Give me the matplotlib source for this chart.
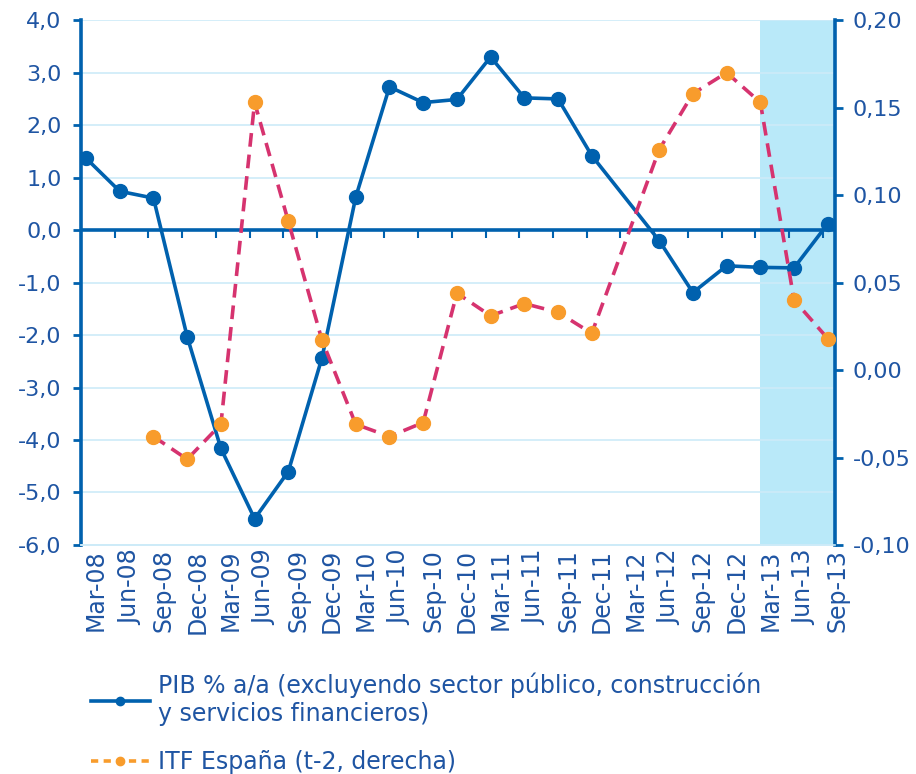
# Gráfico PIB vs ITF España (dos ejes)
import numpy as np
import matplotlib.pyplot as plt
from matplotlib.lines import Line2D
from matplotlib.ticker import FuncFormatter
import matplotlib.transforms as mtransforms

# Datos
trimestres = ['Mar-08', 'Jun-08', 'Sep-08', 'Dec-08', 'Mar-09', 'Jun-09', 'Sep-09', 'Dec-09',
              'Mar-10', 'Jun-10', 'Sep-10', 'Dec-10', 'Mar-11', 'Jun-11', 'Sep-11', 'Dec-11',
              'Mar-12', 'Jun-12', 'Sep-12', 'Dec-12', 'Mar-13', 'Jun-13', 'Sep-13']
pib = [1.37, 0.74, 0.61, -2.03, -4.16, -5.5, -4.6, -2.43, 0.63, 2.73, 2.43, 2.49, 3.30,
       2.52, 2.50, 1.42, None, -0.20, -1.19, -0.68, -0.71, -0.72, 0.12]
itf = [None, None, -0.038, -0.051, -0.031, 0.153, 0.085, 0.017, -0.031, -0.038, -0.030,
       0.044, 0.031, 0.038, 0.033, 0.021, None, 0.126, 0.158, 0.170, 0.153, 0.040, 0.018]
inicio_sombra = 'Mar-13'

azul = '#0061ae'
texto = '#1f55a3'
rosa = '#d6336f'
naranja = '#f89c2c'
rejilla = '#cdebf8'

plt.rcParams['font.family'] = ['DejaVu Sans']

x = np.arange(len(trimestres))
pib_x = [i for i, v in enumerate(pib) if v is not None]
pib_y = [v for v in pib if v is not None]
itf_x = [i for i, v in enumerate(itf) if v is not None]
itf_y = [v for v in itf if v is not None]

fig = plt.figure(figsize=(9.16, 7.74), dpi=100)
ax = fig.add_axes([0.0884, 0.2959, 0.823, 0.678])
ax2 = ax.twinx()

xmax = 22.21
ax.set_xlim(-0.15, xmax)
ax.set_ylim(-6, 4)
ax2.set_ylim(-0.10, 0.20)

# Zona sombreada
ax.axvspan(trimestres.index(inicio_sombra), xmax, color='#b9e9f9', zorder=0, lw=0)

# Rejilla horizontal
ax.set_yticks(np.arange(-6, 4.1, 1))
ax.grid(axis='y', color=rejilla, lw=1.2, zorder=0.5)
ax.set_axisbelow(True)

# Línea del cero
ax.axhline(0, color=azul, lw=2.6, zorder=1)

# Serie PIB (eje izquierdo)
ax.plot(pib_x, pib_y, color=azul, lw=2.6, marker='o', ms=10, zorder=3)

# Serie ITF (eje derecho)
ax2.plot(itf_x, itf_y, color=rosa, lw=2.6, ls=(0, (3.8, 2.2)), zorder=3)
ax2.plot(itf_x, itf_y, ls='none', marker='o', ms=10, color=naranja, zorder=4)

# Marcas sobre la línea del cero
sec = ax.secondary_xaxis(0.6)
sec.set_alignment('bottom')
sec.set_xticks(x - 0.15)
sec.set_xticklabels([])
for s in sec.spines.values():
    s.set_visible(False)
sec.tick_params(axis='x', which='both', direction='out', length=6, width=1.5, color=azul,
                bottom=True, top=False)

# Ejes
ax.set_xticks(x)
ax.set_xticklabels(trimestres, rotation=90, fontsize=17, color=texto)
ax.tick_params(axis='x', length=0, pad=3)
offset = mtransforms.ScaledTranslation(10 / 100, 0, fig.dpi_scale_trans)
for lab in ax.get_xticklabels():
    lab.set_transform(lab.get_transform() + offset)

fmt1 = FuncFormatter(lambda v, p: f'{v:.1f}'.replace('.', ','))
fmt2 = FuncFormatter(lambda v, p: f'{v:.2f}'.replace('.', ','))
ax.yaxis.set_major_formatter(fmt1)
ax2.set_yticks(np.arange(-0.10, 0.201, 0.05))
ax2.yaxis.set_major_formatter(fmt2)

ax.tick_params(axis='y', direction='out', length=6, width=2, color=azul, labelsize=16,
               labelcolor=texto, pad=8)
ax2.tick_params(axis='y', direction='out', length=6, width=2, color=azul, labelsize=16,
                labelcolor=texto, pad=7)

for a in (ax, ax2):
    a.spines['top'].set_visible(False)
    a.spines['bottom'].set_color(rejilla)
    a.spines['bottom'].set_linewidth(1.2)
ax.spines['left'].set_color(azul)
ax.spines['left'].set_linewidth(2.6)
ax.spines['right'].set_visible(False)
ax2.spines['left'].set_visible(False)
ax2.spines['right'].set_color(azul)
ax2.spines['right'].set_linewidth(2.6)

# Leyenda
h1 = Line2D([], [], color=azul, lw=2.6, marker='o', ms=6)
h2 = Line2D([], [], color=naranja, lw=2.6, ls=(0, (2, 1.5)), marker='o', ms=6)
fig.legend([h1, h2],
           ['PIB % a/a (excluyendo sector público, construcción\ny servicios financieros)',
            'ITF España (t-2, derecha)'],
           loc='upper left', bbox_to_anchor=(0.076, 0.158), frameon=False,
           handlelength=2.5, handletextpad=0.35, labelspacing=1.0, labelcolor=texto,
           prop={'family': 'DejaVu Sans', 'size': 17})

fig.savefig('out.png', dpi=100)
